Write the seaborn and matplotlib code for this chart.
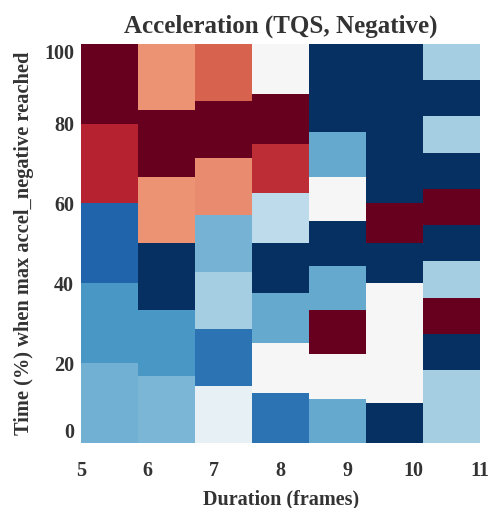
import numpy as np
import matplotlib.pyplot as plt
import seaborn as sns

# durations (frames) on the x axis
durations = [5, 6, 7, 8, 9, 10, 11]

# colour value of each cell, listed from 0% (bottom) up to 100% (top)
vals_5 = [-0.48, -0.58, -0.80, 0.77, 1.0]
vals_6 = [-0.46, -0.58, -1.0, 0.45, 1.0, 0.45]
vals_7 = [-0.08, -0.74, -0.34, -0.47, 0.47, 1.0, 0.59]
vals_8 = [-0.74, 0.0, -0.51, -1.0, -0.26, 0.74, 1.0, 0.0]
vals_9 = [-0.51, 0.0, 1.0, -0.51, -1.0, 0.0, -0.51, -1.0, -1.0]
vals_10 = [-1.0, 0.0, 0.0, 0.0, -1.0, 1.0, -1.0, -1.0, -1.0, -1.0]
vals_11 = [-0.34, -0.34, -1.0, 1.0, -0.34, -1.0, 1.0, -1.0, -0.34, -1.0, -0.34]

y_ticklabels = [0, 20, 40, 60, 80, 100]

columns = [vals_5, vals_6, vals_7, vals_8, vals_9, vals_10, vals_11]

# every column has its own number of bins, so spread them on a common fine grid
n_fine = int(np.lcm.reduce(durations))
grid = np.column_stack([np.repeat(v, n_fine // len(v)) for v in columns])

sns.set_style("white")
plt.rcParams["font.family"] = ["Liberation Serif", "DejaVu Serif"]
plt.rcParams["font.weight"] = "bold"
text_color = "#333333"

fig = plt.figure(figsize=(4.94, 5.08), dpi=100)
ax = fig.add_axes([0.164, 0.128, 0.808, 0.786])

sns.heatmap(grid, cmap="RdBu_r", vmin=-1, vmax=1, cbar=False,
            xticklabels=False, yticklabels=False, ax=ax)
ax.invert_yaxis()

ax.set_xticks(np.linspace(0, len(durations), len(durations)))
ax.set_xticklabels([str(d) for d in durations])
ax.set_yticks(np.linspace(0, n_fine, len(y_ticklabels)))
ax.set_yticklabels([str(t) for t in y_ticklabels], rotation=0)

ax.tick_params(axis="x", length=0, pad=13, labelsize=14.5, labelcolor=text_color)
ax.tick_params(axis="y", length=0, pad=5, labelsize=14.5, labelcolor=text_color)
for lab in ax.get_xticklabels() + ax.get_yticklabels():
    lab.set_fontweight("bold")
ylabs = ax.get_yticklabels()
ylabs[0].set_va("bottom")
ylabs[-1].set_va("top")

ax.set_xlabel("Duration (frames)", fontsize=14.5, fontweight="bold",
              color=text_color, labelpad=6)
ax.set_ylabel("Time (%) when max accel_negative reached", fontsize=14.7,
              fontweight="bold", color=text_color, labelpad=7)
ax.set_title("Acceleration (TQS, Negative)", fontsize=18, fontweight="bold",
             color=text_color, pad=8)

fig.savefig("out.png", dpi=100)
